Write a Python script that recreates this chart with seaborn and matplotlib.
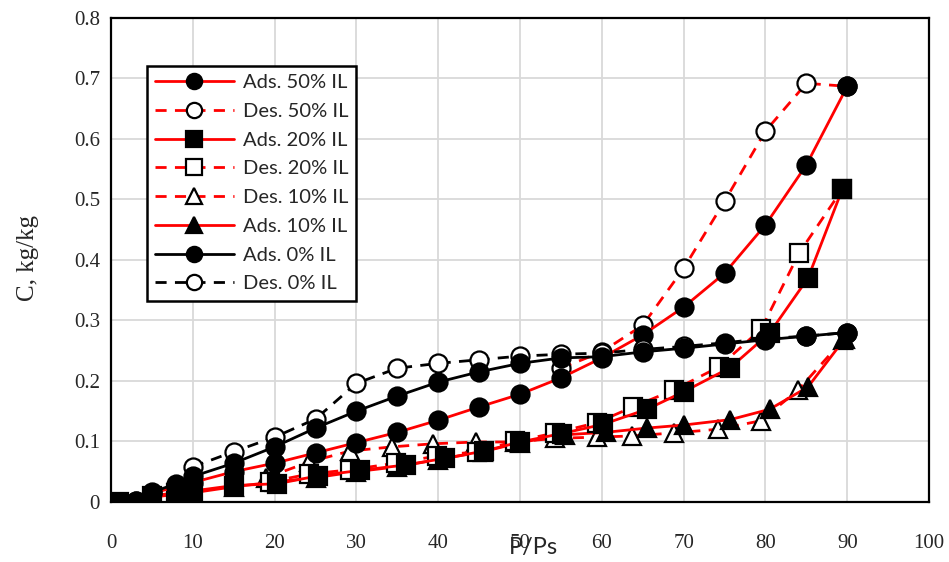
import numpy as np
import pandas as pd
import matplotlib
matplotlib.use("Agg")
import matplotlib.pyplot as plt
import seaborn as sns

# Sorption data (x = P/Ps in %, y = C in kg/kg)
ads50_x = [1, 3, 5, 8, 10, 15, 20, 25, 30, 35, 40, 45, 50, 55, 60, 65, 70, 75, 80, 85, 90]
ads50_y = [0, 0.002, 0.014, 0.025, 0.032, 0.05, 0.064, 0.081, 0.098, 0.115, 0.135, 0.157,
           0.178, 0.205, 0.238, 0.276, 0.322, 0.378, 0.458, 0.557, 0.687]
des50_x = [55, 60, 65, 70, 75, 80, 85, 90]
des50_y = [0.221, 0.248, 0.292, 0.386, 0.497, 0.613, 0.692, 0.687]

ads20_x = [1, 5, 8, 10, 15, 20.3, 25.3, 30.4, 36, 40.8, 45.6, 50, 55.1, 60.1, 65.5, 70, 75.7, 80.5, 85.2, 89.4]
ads20_y = [0, 0.01, 0.015, 0.018, 0.027, 0.03, 0.043, 0.052, 0.061, 0.072, 0.084, 0.099,
           0.113, 0.128, 0.153, 0.182, 0.222, 0.279, 0.37, 0.517]
des20_x = [19.4, 24.2, 29.2, 34.8, 39.9, 44.7, 49.4, 54.3, 59.4, 63.8, 68.8, 74.3, 79.5, 84.1, 89.4]
des20_y = [0.033, 0.046, 0.053, 0.064, 0.076, 0.083, 0.1, 0.114, 0.131, 0.157, 0.185,
           0.223, 0.286, 0.411, 0.517]

des10_x = [19, 24.2, 29.2, 34.4, 39.3, 44.6, 49.4, 54.3, 59.4, 63.7, 68.8, 74.2, 79.4, 84, 89.5]
des10_y = [0.04, 0.066, 0.084, 0.091, 0.096, 0.099, 0.099, 0.105, 0.107, 0.109, 0.114,
           0.12, 0.134, 0.185, 0.268]
ads10_x = [1, 5, 10, 15, 20, 25, 30, 35, 40, 45.5, 50, 55.5, 60.5, 65.5, 70, 75.7, 80.5, 85.2, 89.7]
ads10_y = [0, 0.008, 0.015, 0.025, 0.033, 0.04, 0.05, 0.058, 0.07, 0.083, 0.098, 0.111,
           0.115, 0.122, 0.127, 0.136, 0.153, 0.19, 0.27]

ads0_x = [3, 5, 8, 10, 15, 20, 25, 30, 35, 40, 45, 50, 55, 60, 65, 70, 75, 80, 85, 90]
ads0_y = [0.002, 0.016, 0.03, 0.042, 0.064, 0.091, 0.122, 0.15, 0.175, 0.198, 0.215,
          0.229, 0.238, 0.24, 0.248, 0.254, 0.261, 0.268, 0.274, 0.28]
des0_x = [10, 15, 20, 25, 30, 35, 40, 45, 50, 55, 60, 65, 70, 75, 80, 85, 90]
des0_y = [0.058, 0.083, 0.107, 0.137, 0.196, 0.221, 0.229, 0.235, 0.241, 0.244, 0.246,
          0.252, 0.257, 0.263, 0.27, 0.274, 0.28]

sns.set_style("white")

fig, ax = plt.subplots(figsize=(9.49, 5.62), dpi=100)
fig.subplots_adjust(left=0.117, right=0.979, bottom=0.107, top=0.968)

# label, x, y, line colour, style, marker, face colour, zorder
series = [
    ("Ads. 50% IL", ads50_x, ads50_y, "red", "-", "o", "black", 6),
    ("Des. 50% IL", des50_x, des50_y, "red", "--", "o", "white", 5),
    ("Ads. 20% IL", ads20_x, ads20_y, "red", "-", "s", "black", 4),
    ("Des. 20% IL", des20_x, des20_y, "red", "--", "s", "white", 3),
    ("Des. 10% IL", des10_x, des10_y, "red", "--", "^", "white", 2),
    ("Ads. 10% IL", ads10_x, ads10_y, "red", "-", "^", "black", 2.5),
    ("Ads. 0% IL", ads0_x, ads0_y, "black", "-", "o", "black", 8),
    ("Des. 0% IL", des0_x, des0_y, "black", "--", "o", "white", 7),
]

for label, xs, ys, col, ls, mk, fc, zo in series:
    df = pd.DataFrame({"x": xs, "y": ys})
    sns.lineplot(data=df, x="x", y="y", ax=ax, estimator=None, sort=False,
                 color=col, linewidth=2, marker=mk, markersize=13,
                 markerfacecolor=fc, markeredgecolor="black", markeredgewidth=1.6,
                 label=label, zorder=zo)
    ln = ax.lines[-1]
    if ls == "--":
        ln.set_dashes([4, 3])
    else:
        ln.set_linestyle("-")

ax.set_xlim(0, 100)
ax.set_ylim(0, 0.8)
ax.set_xticks(np.arange(0, 101, 10))
ax.set_yticks(np.arange(0, 0.81, 0.1))
ax.set_xticks(np.arange(0, 101, 2), minor=True)
ax.set_yticks(np.arange(0, 0.81, 0.02), minor=True)
ax.set_yticklabels(["0", "0.1", "0.2", "0.3", "0.4", "0.5", "0.6", "0.7", "0.8"])
ax.grid(True, which="major", color="#d9d9d9", linewidth=1.3)
ax.set_axisbelow(True)

ax.tick_params(which="both", direction="in", length=5, width=1.5, color="black",
               top=False, right=False)
ax.tick_params(axis="x", which="major", pad=23)
ax.tick_params(axis="y", which="major", pad=8)
for lab in ax.get_xticklabels() + ax.get_yticklabels():
    lab.set_fontfamily("Liberation Serif")
    lab.set_fontsize(15)

for sp in ax.spines.values():
    sp.set_color("black")
    sp.set_linewidth(1.6)

ax.set_xlabel("P/Ps", fontfamily="Lato", fontsize=17)
ax.xaxis.set_label_coords(0.516, -0.072)
ax.set_ylabel("C, kg/kg", fontfamily="Liberation Serif", fontsize=18)
ax.yaxis.set_label_coords(-0.088, 0.504)

handles, labels = ax.get_legend_handles_labels()
leg = ax.legend(handles, labels, loc="upper left", bbox_to_anchor=(0.044, 0.901),
                borderaxespad=0, fancybox=False, framealpha=1, edgecolor="black",
                prop={"family": "Lato", "size": 14.5}, handlelength=3.9,
                handletextpad=0.45, labelspacing=0.58, borderpad=0.4)
leg.get_frame().set_linewidth(1.8)
leg.set_zorder(20)
for h in leg.get_lines():
    h.set_markersize(11)

fig.savefig("out.png", dpi=100)
